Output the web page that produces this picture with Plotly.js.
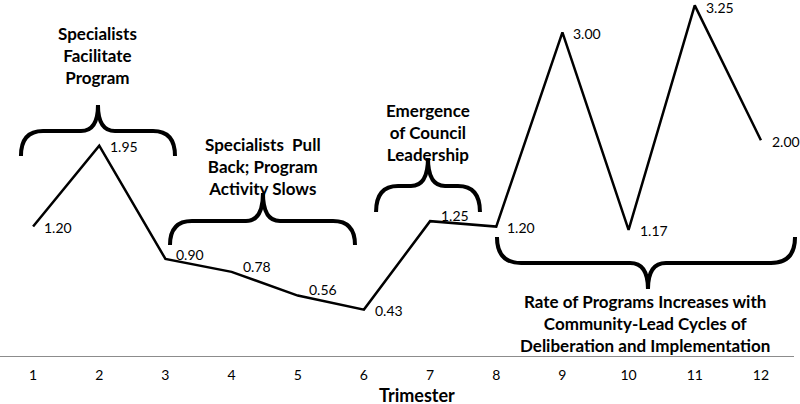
<!DOCTYPE html>
<html>
<head>
<meta charset="utf-8">
<script src="https://cdn.plot.ly/plotly-3.0.1.min.js"></script>
<style>html,body{margin:0;padding:0;background:#fff;}#chart{width:800px;height:404px;}</style>
</head>
<body>
<div id="chart"></div>
<script>
// ---- data ----
const trimesters = [1, 2, 3, 4, 5, 6, 7, 8, 9, 10, 11, 12];
const tickLabels = ['1', '2', '3', '4', '5', '6', '7', '8', '9', '10', '11', '12'];
const programRate = [1.20, 1.95, 0.90, 0.78, 0.56, 0.43, 1.25, 1.20, 3.00, 1.17, 3.25, 2.00];
const phaseLabels = [
  'Specialists<br>Facilitate<br>Program',
  'Specialists  Pull<br>Back; Program<br>Activity Slows',
  'Emergence<br>of Council<br>Leadership',
  'Rate of Programs Increases with<br>Community-Lead Cycles of<br>Deliberation and Implementation'
];
const axisTitle = 'Trimester';

// ---- style: vertical nudge (px) of each value label ----
const labelLift = [-1, -1, 4, 5, 6, -1, 6, -1, -1, -1, -2, -1];

// ---- layout helpers (pixel -> paper) ----
const W = 800, H = 404, M = {l: 0, r: 6, t: 0, b: 48};
const PW = W - M.l - M.r, PH = H - M.t - M.b;
const px = x => ((x - M.l) / PW).toFixed(4);
const py = y => ((M.t + PH - y) / PH).toFixed(4);

// brace: ends at yEnd, straight part at yMid, tip at yTip
function brace(x1, x2, xc, yEnd, yMid, yTip, r, r2) {
  const p = (x, y) => px(x) + ',' + py(y);
  return 'M' + p(x1, yEnd) +
    ' Q' + p(x1, yMid) + ' ' + p(x1 + r, yMid) +
    ' L' + p(xc - r2, yMid) +
    ' Q' + p(xc, yMid) + ' ' + p(xc, yTip) +
    ' Q' + p(xc, yMid) + ' ' + p(xc + r2, yMid) +
    ' L' + p(x2 - r, yMid) +
    ' Q' + p(x2, yMid) + ' ' + p(x2, yEnd);
}
const braceStyle = {color: '#000', width: 4};
const shapes = [
  {type: 'path', xref: 'paper', yref: 'paper', path: brace(21, 175, 98, 156, 131, 105, 22, 17), line: braceStyle},
  {type: 'path', xref: 'paper', yref: 'paper', path: brace(170, 355, 263, 245, 221, 193, 22, 17), line: braceStyle},
  {type: 'path', xref: 'paper', yref: 'paper', path: brace(376, 480, 428, 212, 186, 158, 22, 17), line: braceStyle},
  {type: 'path', xref: 'paper', yref: 'paper', path: brace(497, 795, 648, 237, 263, 289, 24, 18), line: braceStyle}
];

const boldFont = {family: 'Lato, sans-serif', size: 17, color: '#000', weight: 'bold'};
const annPos = [[97, 56], [263, 166], [428, 132], [645, 324]];
const phaseAnn = phaseLabels.map((t, i) => ({
  xref: 'paper', yref: 'paper', x: +px(annPos[i][0]), y: +py(annPos[i][1]),
  xanchor: 'center', yanchor: 'middle', showarrow: false, align: 'center',
  text: '<b>' + t + '</b>', font: boldFont
}));

// value labels, placed to the right of each point
const valueAnn = programRate.map((v, i) => ({
  xref: 'x', yref: 'y', x: trimesters[i], y: v,
  text: v.toFixed(2), showarrow: false,
  xanchor: 'left', yanchor: 'middle', xshift: 9, yshift: labelLift[i],
  font: {family: 'Lato, sans-serif', size: 14, color: '#000'}
}));

const titleAnn = {
  xref: 'paper', yref: 'paper', x: +px(417), y: +py(395),
  xanchor: 'center', yanchor: 'middle', showarrow: false,
  text: '<b>' + axisTitle + '</b>',
  font: {family: 'Lato, sans-serif', size: 18, color: '#000'}
};

const trace = {
  x: trimesters, y: programRate, type: 'scatter', mode: 'lines',
  line: {color: '#000', width: 2.5},
  cliponaxis: false, hoverinfo: 'skip', showlegend: false
};

const layout = {
  width: W, height: H, margin: M,
  paper_bgcolor: '#fff', plot_bgcolor: '#fff',
  xaxis: {
    range: [0.5, 12.5], tickvals: trimesters, ticktext: tickLabels,
    showgrid: false, zeroline: false, showline: true, linecolor: '#8c8c8c', linewidth: 1,
    ticks: 'outside', ticklen: 6, tickcolor: 'rgba(0,0,0,0)',
    tickfont: {family: 'Lato, sans-serif', size: 14, color: '#000'},
    fixedrange: true
  },
  yaxis: {range: [0, 3.3], visible: false, showgrid: false, zeroline: false, fixedrange: true},
  shapes: shapes,
  annotations: phaseAnn.concat(valueAnn, [titleAnn])
};

Plotly.newPlot('chart', [trace], layout, {staticPlot: true, displayModeBar: false});
</script>
</body>
</html>
